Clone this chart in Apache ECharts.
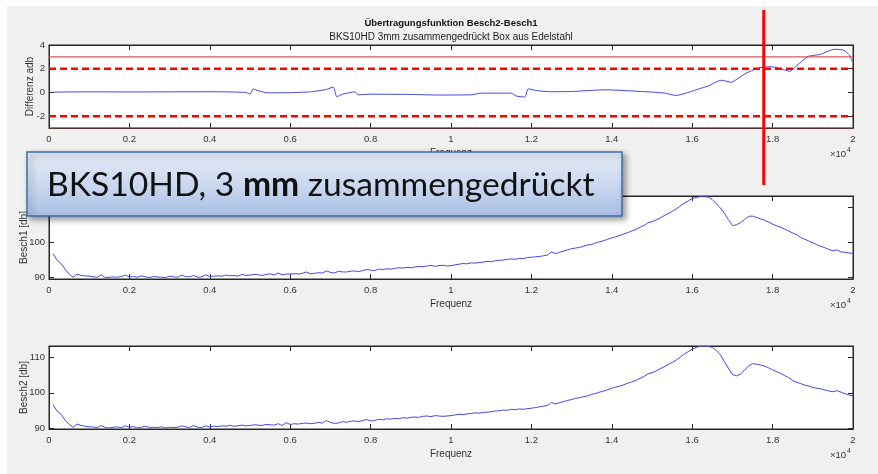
<!DOCTYPE html>
<html><head><meta charset="utf-8">
<script src="https://cdn.jsdelivr.net/npm/echarts@6/dist/echarts.min.js"></script>
<style>html,body{margin:0;padding:0;background:#fff}#c{width:878px;height:474px}</style>
</head><body><div id="c"></div><script>
// ---------- DATA ----------
const freq = [
100,200,300,400,500,600,700,800,900,1000,
1100,1200,1300,1400,1500,1600,1700,1800,1900,2000,
2100,2200,2300,2400,2500,2600,2700,2800,2900,3000,
3100,3200,3300,3400,3500,3600,3700,3800,3900,4000,
4100,4200,4300,4400,4500,4600,4700,4800,4900,5000,
5100,5200,5300,5400,5500,5600,5700,5800,5900,6000,
6100,6200,6300,6400,6500,6600,6700,6800,6900,7000,
7100,7200,7300,7400,7500,7600,7700,7800,7900,8000,
8100,8200,8300,8400,8500,8600,8700,8800,8900,9000,
9100,9200,9300,9400,9500,9600,9700,9800,9900,10000,
10100,10200,10300,10400,10500,10600,10700,10800,10900,11000,
11100,11200,11300,11400,11500,11600,11700,11800,11900,12000,
12100,12200,12300,12400,12500,12600,12700,12800,12900,13000,
13100,13200,13300,13400,13500,13600,13700,13800,13900,14000,
14100,14200,14300,14400,14500,14600,14700,14800,14900,15000,
15100,15200,15300,15400,15500,15600,15700,15800,15900,16000,
16100,16200,16300,16400,16500,16600,16700,16800,16900,17000,
17100,17200,17300,17400,17500,17600,17700,17800,17900,18000,
18100,18200,18300,18400,18500,18600,18700,18800,18900,19000,
19100,19200,19300,19400,19500,19600,19700,19800,19900,20000
];
const besch1 = [
96.8,95.0,94.0,92.4,91.0,90.1,91.0,90.6,90.5,90.4,
90.2,90.1,90.8,90.0,90.1,90.2,90.1,90.3,90.7,90.2,
90.3,90.1,90.5,90.2,90.0,90.3,90.2,90.1,90.0,90.4,
90.2,90.1,90.7,90.3,90.2,90.6,90.1,90.2,90.8,90.3,
90.4,90.5,90.4,90.7,90.5,90.6,90.4,90.9,90.6,90.7,
90.9,90.8,90.6,90.9,91.1,90.7,91.3,90.8,91.0,91.0,
91.1,91.0,91.2,91.6,91.1,91.2,91.4,91.3,91.9,91.5,
91.3,91.8,91.6,91.6,91.8,91.9,91.7,92.0,92.3,92.1,
92.0,92.4,92.3,92.5,92.4,92.6,92.8,92.7,92.9,92.8,
93.0,93.2,93.1,93.3,93.5,93.2,93.4,93.5,93.3,93.4,
93.6,93.8,94.0,93.9,94.2,94.1,94.3,94.4,94.6,94.5,
94.8,94.9,95.0,95.2,95.3,95.2,95.5,95.4,95.7,95.8,
95.9,96.0,96.2,96.4,97.3,96.8,97.2,97.5,97.9,98.2,
98.4,98.6,98.9,99.3,99.4,99.9,100.2,100.5,100.9,101.3,
101.6,102.0,102.4,102.8,103.3,103.7,104.3,104.8,105.6,105.9,
106.4,106.9,107.6,108.2,108.8,109.5,110.3,111.2,111.8,112.5,
112.8,113.0,113.0,112.9,112.2,111.0,109.8,108.3,106.5,104.8,
105.0,105.6,106.5,107.4,107.5,107.1,106.7,106.3,105.8,105.2,
104.7,104.3,103.8,103.2,102.7,102.2,101.4,100.9,100.4,99.9,
99.4,98.9,98.5,98.0,97.6,97.9,97.3,97.2,97.0,96.9
];
const besch2 = [
96.6,94.8,93.9,92.2,91.0,90.2,91.1,90.7,90.5,90.3,
90.3,90.0,90.7,90.1,90.0,90.2,90.3,90.1,90.6,90.2,
90.4,90.0,90.2,90.5,90.1,90.2,90.1,90.3,90.0,90.2,
90.1,90.2,90.6,90.3,90.1,90.7,90.2,90.1,90.6,90.3,
90.5,90.4,90.6,90.5,90.7,90.5,90.6,90.8,90.6,90.7,
90.9,90.8,90.7,91.0,90.9,90.8,91.2,90.7,91.5,91.0,
91.2,91.1,91.3,91.4,91.2,91.3,91.6,91.4,92.1,91.6,
91.3,91.4,91.8,91.6,91.9,92.0,91.8,92.1,92.4,92.0,
92.1,92.5,92.3,92.6,92.5,92.7,92.6,92.9,92.8,93.0,
93.1,93.0,93.3,93.4,93.2,93.5,93.4,93.3,93.4,93.5,
93.7,93.9,93.8,94.0,94.1,94.3,94.2,94.4,94.5,94.6,
94.8,94.9,95.1,95.0,95.3,95.2,95.4,95.3,95.5,95.6,
95.8,96.0,96.2,96.4,97.2,96.8,97.2,97.5,97.8,98.1,
98.4,98.6,98.9,99.1,99.6,99.8,100.2,100.5,100.9,101.3,
101.6,101.9,102.3,102.7,103.1,103.5,104.1,104.6,105.4,105.7,
106.2,106.8,107.4,108.0,108.6,109.3,110.1,111.0,111.7,112.4,
112.9,113.2,113.2,113.2,112.9,112.0,110.8,108.9,107.0,105.2,
104.8,105.3,106.4,107.6,108.3,108.1,107.9,107.6,107.1,106.5,
106.0,105.5,104.9,104.3,103.5,103.0,102.6,102.2,101.9,101.5,
101.3,101.1,100.8,100.5,100.3,100.6,100.2,99.7,99.4,99.1
];
const diffFreq = [100,500,1000,2000,3000,4000,4900,5000,5080,5200,5420,6000,6500,6900,7070,7160,7300,7610,7690,8000,9000,9670,10500,10750,11500,11620,11840,11920,12160,12500,13000,13830,14830,15300,15600,16150,16400,16720,16970,17150,17320,17640,17970,18200,18430,18580,18880,19200,19530,19750,19900,19980];
const diffVal  = [0.02,0.04,0.05,0.04,0.05,0.06,0.0,-0.14,0.3,0.15,-0.03,-0.02,0.05,0.25,0.45,-0.36,-0.15,0.05,-0.2,-0.15,-0.17,-0.22,-0.2,-0.06,-0.06,-0.3,-0.39,0.3,0.14,0.06,0.08,0.22,0.06,-0.05,-0.25,0.28,0.55,1.03,0.86,1.2,1.58,2.05,2.17,2.0,1.78,2.2,3.03,3.22,3.64,3.58,3.2,2.6];
const freqRange = [0, 20000];
const diffTicks = [-2, 0, 2, 4];
const dbTicks = [90, 100, 110];
const dashedLimits = [2, -2];
const thinLimits = [3, -3];
const markerFreq = 17780;

// ---------- STYLE ----------
const AX = '#262626', LBL = '#333333', BLUE = '#4646ec', FONT = 'Liberation Sans, Arial, sans-serif';
const grids = [
  {left: 49, right: 25, top: 45, height: 83},
  {left: 49, right: 25, top: 196, height: 83},
  {left: 49, right: 25, top: 346, height: 83}
];
const yLims = [[-3, 4], [89.6, 113.2], [89.7, 113.3]];
const yNames = ['Differenz adb', 'Besch1 [db]', 'Besch2 [db]'];
const yNameGaps = [14, 20, 20];
const yTickSets = [diffTicks, dbTicks, dbTicks];

const xAxes = [], yAxes = [];
grids.forEach((g, i) => {
  const base = {gridIndex: i, type: 'value', min: freqRange[0], max: freqRange[1], interval: 2000,
    axisLine: {show: true, onZero: false, lineStyle: {color: AX, width: 1}},
    axisTick: {inside: true, length: 5, lineStyle: {color: AX}},
    splitLine: {show: false}};
  xAxes.push(Object.assign({}, base, {position: 'bottom',
    axisLabel: {color: LBL, fontSize: 9.5, fontFamily: FONT, margin: 6, formatter: v => String(v / 10000)},
    name: 'Frequenz', nameLocation: 'middle', nameGap: 20, nameMoveOverlap: false,
    nameTextStyle: {color: LBL, fontSize: 10, fontFamily: FONT}}));
  xAxes.push(Object.assign({}, base, {position: 'top', axisLabel: {show: false}}));
  const ybase = {gridIndex: i, type: 'value', min: yLims[i][0], max: yLims[i][1],
    axisLine: {show: true, onZero: false, lineStyle: {color: AX, width: 1}},
    axisTick: {inside: true, length: 5, lineStyle: {color: AX}, customValues: yTickSets[i]},
    splitLine: {show: false}};
  yAxes.push(Object.assign({}, ybase, {position: 'left',
    axisLabel: {color: LBL, fontSize: 9.5, fontFamily: FONT, margin: 4, customValues: yTickSets[i]},
    name: yNames[i], nameLocation: 'middle', nameGap: yNameGaps[i], nameRotate: 90, nameMoveOverlap: false,
    nameTextStyle: {color: LBL, fontSize: 10, fontFamily: FONT}}));
  yAxes.push(Object.assign({}, ybase, {position: 'right', axisLabel: {show: false}}));
});

const series = [];
thinLimits.forEach(v => series.push({type: 'line', xAxisIndex: 0, yAxisIndex: 0, silent: true, showSymbol: false, z: 4,
  data: freqRange.map(f => [f, v]), lineStyle: {color: '#d9545f', width: 1.2}}));
dashedLimits.forEach(v => series.push({type: 'line', xAxisIndex: 0, yAxisIndex: 0, silent: true, showSymbol: false, z: 5,
  data: freqRange.map(f => [f, v]), lineStyle: {color: '#ff0000', width: 2.5, type: [7, 4]}}));
series.push(
  {type: 'line', xAxisIndex: 0, yAxisIndex: 0, data: diffFreq.map((f, i) => [f, diffVal[i]]),
   showSymbol: false, smooth: 0.2, lineStyle: {color: BLUE, width: 1}, z: 3},
  {type: 'line', xAxisIndex: 2, yAxisIndex: 2, data: freq.map((f, i) => [f, besch1[i]]),
   showSymbol: false, lineStyle: {color: BLUE, width: 1}},
  {type: 'line', xAxisIndex: 4, yAxisIndex: 4, data: freq.map((f, i) => [f, besch2[i]]),
   showSymbol: false, lineStyle: {color: BLUE, width: 1}}
);

const chart = echarts.init(document.getElementById('c'), null, {renderer: 'canvas'});

// overlay text size fitted to box
const bigText = ['BKS10HD, 3 ', 'mm', ' zusammengedrückt'];
const ctx = document.createElement('canvas').getContext('2d');
const BF = 'Lato, "Open Sans", sans-serif';
ctx.font = '32px ' + BF; let w = ctx.measureText(bigText[0]).width + ctx.measureText(bigText[2]).width;
ctx.font = 'bold 32px ' + BF; w += ctx.measureText(bigText[1]).width;
const bigSize = Math.min(40, 32 * 548 / w);

function graphics(markerX) {
  const g = [
    {type: 'rect', shape: {x: 0, y: 0, width: 878, height: 6}, style: {fill: '#ffffff'}, silent: true},
    {type: 'rect', shape: {x: 0, y: 0, width: 7, height: 474}, style: {fill: '#ffffff'}, silent: true},
    {type: 'text', x: 451, y: 23, style: {text: 'Übertragungsfunktion Besch2-Besch1', font: 'bold 9.5px ' + FONT, fill: '#111', align: 'center', verticalAlign: 'middle'}},
    {type: 'text', x: 451, y: 37, style: {text: 'BKS10HD 3mm zusammengedrückt Box aus Edelstahl', font: '10px ' + FONT, fill: '#222', align: 'center', verticalAlign: 'middle'}}
  ];
  grids.forEach(gr => {
    const yb = gr.top + gr.height + 26;
    g.push({type: 'text', x: 846, y: yb, style: {text: '×10', font: '9.5px ' + FONT, fill: LBL, align: 'right', verticalAlign: 'middle'}});
    g.push({type: 'text', x: 847, y: yb - 4, style: {text: '4', font: '7px ' + FONT, fill: LBL, align: 'left', verticalAlign: 'middle'}});
  });
  if (markerX != null) {
    g.push({type: 'line', shape: {x1: markerX, y1: 10, x2: markerX, y2: 185}, style: {stroke: '#ff0000', lineWidth: 3}, z: 50});
  }
  g.push({type: 'rect', shape: {x: 27, y: 152, width: 595, height: 64}, z: 60,
    style: {fill: new echarts.graphic.LinearGradient(0, 0, 0, 1, [
      {offset: 0, color: '#e6ecf7'}, {offset: 0.55, color: '#c8d6ee'}, {offset: 1, color: '#a7bee4'}]),
      stroke: '#3e6ea8', lineWidth: 1.5, shadowBlur: 6, shadowOffsetX: 3, shadowOffsetY: 3, shadowColor: 'rgba(0,0,0,0.4)'}});
  g.push({type: 'text', x: 47, y: 185, z: 61, style: {
    text: '{n|' + bigText[0] + '}{b|' + bigText[1] + '}{n|' + bigText[2] + '}',
    verticalAlign: 'middle', align: 'left',
    rich: {n: {fontFamily: BF, fontSize: bigSize, fill: '#111'}, b: {fontFamily: BF, fontSize: bigSize, fontWeight: 'bold', fill: '#111'}}}});
  return g;
}

chart.setOption({
  animation: false,
  backgroundColor: '#f0f0f0',
  grid: grids.map(g => Object.assign({show: true, backgroundColor: '#ffffff', borderColor: AX, borderWidth: 1}, g)),
  xAxis: xAxes, yAxis: yAxes, series: series,
  graphic: graphics(null)
});
const mx = chart.convertToPixel({xAxisIndex: 0}, markerFreq);
chart.setOption({graphic: graphics(mx)}, {replaceMerge: ['graphic']});
</script></body></html>
